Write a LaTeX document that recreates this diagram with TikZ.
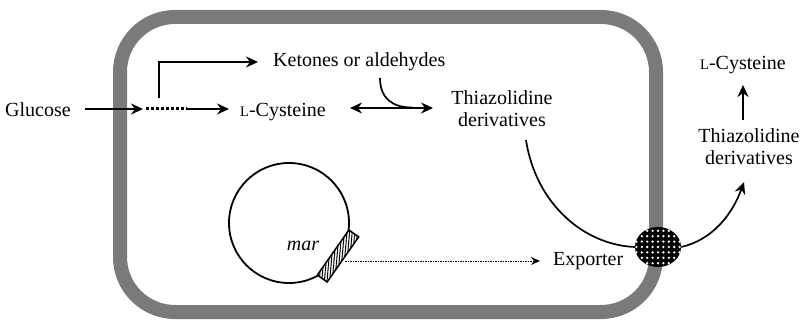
\documentclass[tikz,border=0pt]{standalone}
\usepackage{fontspec}
\setmainfont{Liberation Serif}
\usetikzlibrary{arrows.meta,patterns.meta,shapes.geometric}
\definecolor{cellgray}{RGB}{122,122,122}
\newcommand\scLetter{{\fontsize{14.5}{14}\selectfont L}}
\begin{document}
\begin{tikzpicture}[x=1pt,y=-1pt,
  txt/.style={inner sep=0pt,font=\fontsize{20}{22}\selectfont},
  arr/.style={line width=1.7pt,-{Stealth[length=12pt,width=11pt,inset=4pt]}},
  darr/.style={line width=1.7pt,{Stealth[length=12pt,width=11pt,inset=4pt]}-{Stealth[length=12pt,width=11pt,inset=4pt]}},
  plain/.style={line width=1.7pt},
  thickdots/.style={line width=3pt,dash pattern=on 2.5pt off 2.5pt},
  finedots/.style={line width=1pt,dash pattern=on 1.5pt off 1pt,-{Stealth[length=9pt,width=8pt,inset=3pt]}}]
\useasboundingbox (0,0) rectangle (802,320);
\fill[white] (0,0) rectangle (802,320);
% cell envelope
\draw[cellgray,line width=14pt,rounded corners=55pt] (120,17) rectangle (656,312);

% texts
\node[txt,anchor=base west] (glu) at (5,117) {Glucose};
\node[txt,anchor=base west] (cys) at (240,117) {\scLetter-Cysteine};
\node[txt,anchor=base west] (ket) at (273,67) {Ketones or aldehydes};
\node[txt,align=center] (thi) at (502,109) {Thiazolidine\\derivatives};
\node[txt,anchor=base west] (cys2) at (700,70) {\scLetter-Cysteine};
\node[txt,align=center] (thi2) at (749,147) {Thiazolidine\\derivatives};
\node[txt,anchor=base west] (exp) at (553,265) {Exporter};

% plasmid
\node[circle,draw,line width=1.8pt,minimum size=120pt,inner sep=0pt] (pl) at (289,223) {};
\node[txt,anchor=base] (mar) at (303,250) {\itshape mar};
\node[draw,line width=1.5pt,fill=white,minimum width=55pt,minimum height=12pt,inner sep=0pt,rotate=55,
  postaction={pattern={Lines[angle=85,distance=2.6pt,line width=1pt]}}] (hat) at (338,256) {};

% exporter
\node[ellipse,fill=black,minimum width=46pt,minimum height=40pt,inner sep=0pt,
  path picture={\foreach \i in {-4,...,4}{\foreach \j in {-4,...,4}{
    \fill[white] ([shift={(\i*5.4,\j*5.4)}]path picture bounding box.center) circle[radius=1.3];}}}] (ex) at (658,247) {};

% connectors
\coordinate (a0) at (85,109);
\coordinate (a1) at (143,109);
\coordinate (b0) at (146,109);
\coordinate (b1) at (187,109);
\coordinate (c1) at (229,109);
\draw[arr] (a0) -- (a1);
\draw[thickdots] (b0) -- (b1);
\draw[arr] (b1) -- (c1);

\coordinate (k0) at (159,98);
\coordinate (k1) at (258,62);
\draw[arr] (k0) |- (k1);

\coordinate (e0) at (350,108);
\coordinate (e1) at (433,108);
\draw[darr] (e0) -- (e1);
\coordinate (h0) at (380,78);
\coordinate (h1) at (412,107.5);
\draw[plain] (h0) .. controls (380,98) and (392,107.5) .. (h1);

\coordinate (t0) at (526,140);
\draw[plain] (t0) .. controls (536,205) and (585,245) .. (ex.west);
\coordinate (t1) at (744,182);
\draw[arr] (ex.east) .. controls (712,240) and (732,215) .. (t1);

\coordinate (u0) at (743,120);
\coordinate (u1) at (743,85);
\draw[arr] (u0) -- (u1);

\coordinate (m0) at (345,261);
\coordinate (m1) at (540,261);
\draw[finedots] (m0) -- (m1);
\end{tikzpicture}
\end{document}
